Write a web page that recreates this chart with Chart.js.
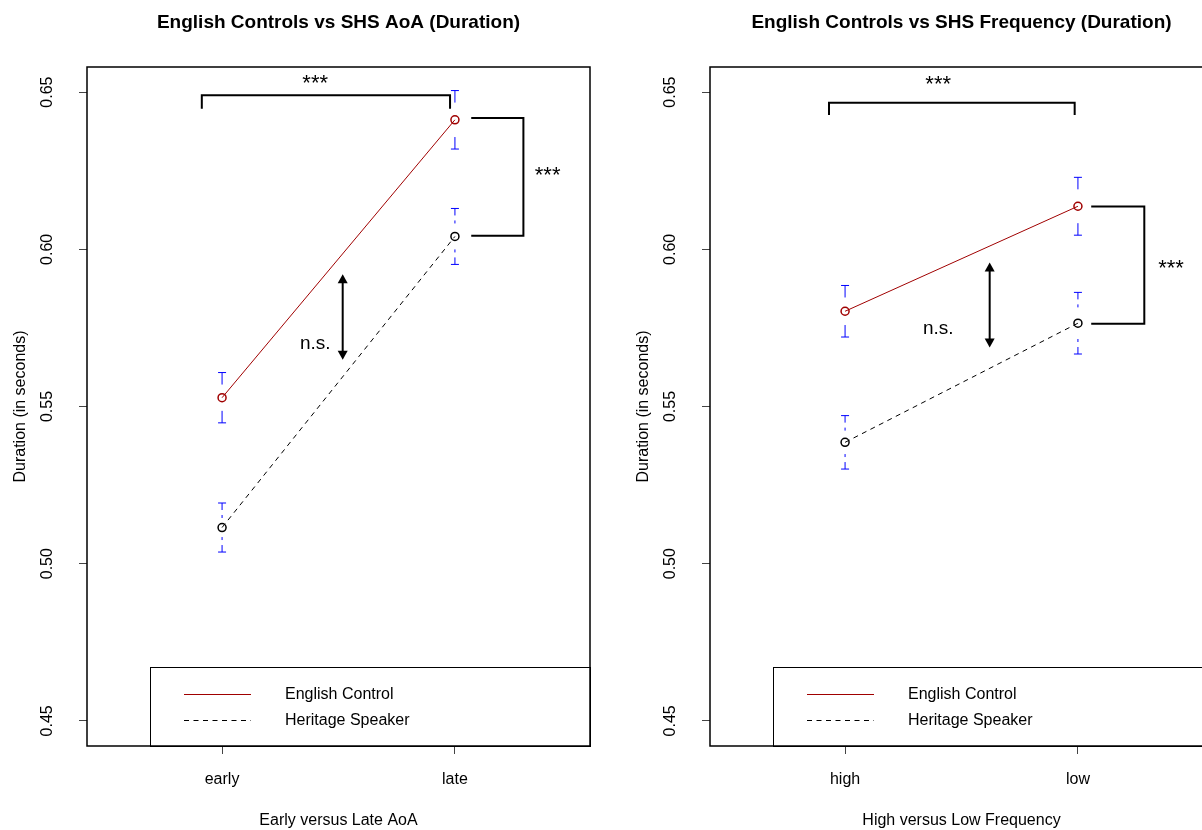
<!DOCTYPE html>
<html>
<head>
<meta charset="utf-8">
<title>English Controls vs SHS (Duration)</title>
<script src="https://cdn.jsdelivr.net/npm/chart.js@4.4.1/dist/chart.umd.min.js"></script>
<style>
  html, body { margin: 0; padding: 0; background: #fff; overflow: hidden; width: 1202px; height: 830px; }
  .panel { position: absolute; top: 0; width: 620px; height: 830px; }
  #aoaPanel { left: 0; }
  #freqPanel { left: 623px; }
</style>
</head>
<body>
<div class="panel" id="aoaPanel"><canvas id="aoaChart" width="620" height="830"></canvas></div>
<div class="panel" id="freqPanel"><canvas id="freqChart" width="620" height="830"></canvas></div>
<script>
// ---- data ----
const aoaLevels = ['early', 'late'];
const aoaControl = [0.5528, 0.6412];
const aoaControlSE = [0.0080, 0.0093];
const aoaHeritage = [0.5115, 0.6041];
const aoaHeritageSE = [0.0078, 0.0089];

const freqLevels = ['high', 'low'];
const freqControl = [0.5803, 0.6137];
const freqControlSE = [0.0082, 0.0092];
const freqHeritage = [0.5386, 0.5765];
const freqHeritageSE = [0.0085, 0.0098];

const seriesNames = ['English Control', 'Heritage Speaker'];
const yTicks = [0.45, 0.50, 0.55, 0.60, 0.65];
const xPositions = [1, 2];

Chart.defaults.font.family = '"Liberation Sans", Arial, Helvetica, sans-serif';
Chart.defaults.color = '#000';

const darkRed = '#a00000';
const dashPattern = [5, 4.5];

// R-style extras: error bars, significance brackets, legend box, plot frame
const rPlotPlugin = {
    id: 'rPlot',
    afterDatasetsDraw(chart) {
        const ctx = chart.ctx;
        const ys = chart.scales.y;
        ctx.save();
        ctx.strokeStyle = '#0000ff';
        ctx.lineWidth = 1;
        chart.data.datasets.forEach((ds, i) => {
            const meta = chart.getDatasetMeta(i);
            meta.data.forEach((pt, j) => {
                const v = ds.data[j].y;
                const se = ds.errors[j];
                [[ys.getPixelForValue(v + se), 1], [ys.getPixelForValue(v - se), -1]].forEach(([py, dir]) => {
                    ctx.setLineDash([]);
                    ctx.beginPath();
                    ctx.moveTo(pt.x - 4, py);
                    ctx.lineTo(pt.x + 4, py);
                    ctx.stroke();
                    ctx.setLineDash(ds.errDash);
                    ctx.beginPath();
                    ctx.moveTo(pt.x, py);
                    ctx.lineTo(pt.x, py + dir * ds.errStub);
                    ctx.stroke();
                });
            });
        });
        ctx.restore();
    },
    afterDraw(chart, args, opts) {
        const ctx = chart.ctx;
        const area = chart.chartArea;
        const xs = chart.scales.x, ys = chart.scales.y;
        const px = v => xs.getPixelForValue(v);
        const py = v => ys.getPixelForValue(v);
        ctx.save();

        // significance marks
        ctx.strokeStyle = '#000';
        ctx.fillStyle = '#000';
        ctx.lineWidth = 2;
        ctx.setLineDash([]);
        (opts.marks || []).forEach(m => {
            if (m.type === 'hbracket') {
                ctx.beginPath();
                ctx.moveTo(px(m.x1), py(m.yEnd));
                ctx.lineTo(px(m.x1), py(m.y));
                ctx.lineTo(px(m.x2), py(m.y));
                ctx.lineTo(px(m.x2), py(m.yEnd));
                ctx.stroke();
            } else if (m.type === 'vbracket') {
                ctx.beginPath();
                ctx.moveTo(px(m.x1), py(m.y1));
                ctx.lineTo(px(m.x2), py(m.y1));
                ctx.lineTo(px(m.x2), py(m.y2));
                ctx.lineTo(px(m.x1), py(m.y2));
                ctx.stroke();
            } else if (m.type === 'arrow') {
                const x = px(m.x), top = py(m.y1), bot = py(m.y2);
                ctx.beginPath();
                ctx.moveTo(x, top + 5);
                ctx.lineTo(x, bot - 5);
                ctx.stroke();
                ctx.beginPath();
                ctx.moveTo(x, top);
                ctx.lineTo(x - 5, top + 9);
                ctx.lineTo(x + 5, top + 9);
                ctx.closePath();
                ctx.fill();
                ctx.beginPath();
                ctx.moveTo(x, bot);
                ctx.lineTo(x - 5, bot - 9);
                ctx.lineTo(x + 5, bot - 9);
                ctx.closePath();
                ctx.fill();
            } else if (m.type === 'text') {
                ctx.font = m.size + 'px "Liberation Sans", Arial, sans-serif';
                ctx.textAlign = 'center';
                ctx.textBaseline = 'middle';
                ctx.fillText(m.text, px(m.x), py(m.y));
            }
        });

        // legend box, anchored bottom right of the plot region
        const lg = opts.legend;
        const left = area.left + lg.offsetLeft;
        const top = area.bottom - lg.height;
        ctx.fillStyle = '#fff';
        ctx.fillRect(left, top, area.right - left, lg.height);
        ctx.strokeStyle = '#000';
        ctx.lineWidth = 1;
        ctx.strokeRect(left + 0.5, top + 0.5, area.right - left, lg.height);
        ctx.font = '16px "Liberation Sans", Arial, sans-serif';
        ctx.textAlign = 'left';
        ctx.textBaseline = 'middle';
        chart.data.datasets.forEach((ds, i) => {
            const rowY = Math.round(top + lg.firstRow + i * lg.rowGap) + 0.5;
            ctx.strokeStyle = ds.borderColor;
            ctx.lineWidth = 1;
            ctx.setLineDash(ds.borderDash || []);
            ctx.beginPath();
            ctx.moveTo(left + 34, rowY);
            ctx.lineTo(left + 101, rowY);
            ctx.stroke();
            ctx.setLineDash([]);
            ctx.fillStyle = '#000';
            ctx.fillText(ds.label, left + 135, rowY);
        });

        // plot frame
        ctx.strokeStyle = '#000';
        ctx.lineWidth = 1.5;
        ctx.strokeRect(area.left, area.top, area.right - area.left, area.bottom - area.top);
        ctx.restore();
    }
};

function makePanel(canvasId, title, xTitle, levels, control, controlSE, heritage, heritageSE, marks) {
    const toPoints = vals => vals.map((v, i) => ({ x: xPositions[i], y: v }));
    return new Chart(document.getElementById(canvasId), {
        type: 'line',
        data: {
            datasets: [{
                label: seriesNames[0],
                data: toPoints(control),
                errors: controlSE,
                errDash: [],
                errStub: 12,
                borderColor: darkRed,
                borderWidth: 1,
                pointRadius: 4,
                pointBorderWidth: 1.5,
                pointBorderColor: darkRed,
                pointBackgroundColor: 'rgba(0,0,0,0)',
                tension: 0
            }, {
                label: seriesNames[1],
                data: toPoints(heritage),
                errors: heritageSE,
                errDash: [7, 5],
                errStub: 15,
                borderColor: '#000',
                borderWidth: 1,
                borderDash: dashPattern,
                pointRadius: 4,
                pointBorderWidth: 1.5,
                pointBorderColor: '#000',
                pointBackgroundColor: 'rgba(0,0,0,0)',
                tension: 0
            }]
        },
        options: {
            responsive: false,
            animation: false,
            layout: { padding: { left: 0, right: 30, top: 0, bottom: 0 } },
            plugins: {
                legend: { display: false },
                tooltip: { enabled: false },
                title: {
                    display: true,
                    text: title,
                    fullSize: false,
                    font: { size: 19, weight: 'bold' },
                    color: '#000',
                    padding: { top: 11, bottom: 33.2 }
                },
                rPlot: {
                    marks: marks,
                    legend: { offsetLeft: 63, height: 79, firstRow: 27, rowGap: 26 }
                }
            },
            scales: {
                x: {
                    type: 'linear',
                    min: 0.42,
                    max: 2.58,
                    afterBuildTicks: s => { s.ticks = xPositions.map(v => ({ value: v })); },
                    afterFit: s => { s.height = 84; },
                    border: { display: false },
                    grid: { drawOnChartArea: false, drawTicks: true, tickLength: 8, color: '#444' },
                    ticks: {
                        font: { size: 16 },
                        padding: 16,
                        maxRotation: 0,
                        callback: v => levels[xPositions.indexOf(v)]
                    },
                    title: {
                        display: true,
                        text: xTitle,
                        font: { size: 16 },
                        padding: { top: 0, bottom: 0 }
                    }
                },
                y: {
                    type: 'linear',
                    min: 0.442,
                    max: 0.658,
                    afterBuildTicks: s => { s.ticks = yTicks.map(v => ({ value: v })); },
                    afterFit: s => { s.width = 87; },
                    border: { display: false },
                    grid: { drawOnChartArea: false, drawTicks: true, tickLength: 8, color: '#444' },
                    ticks: {
                        font: { size: 16 },
                        padding: 16,
                        minRotation: 90,
                        maxRotation: 90,
                        crossAlign: 'center',
                        callback: v => v.toFixed(2)
                    },
                    title: {
                        display: true,
                        text: 'Duration (in seconds)',
                        font: { size: 16 },
                        padding: { top: 11, bottom: 0 }
                    }
                }
            }
        },
        plugins: [rPlotPlugin]
    });
}

// significance annotations, in data units
const aoaMarks = [
    { type: 'hbracket', x1: 0.913, x2: 1.979, y: 0.649, yEnd: 0.6447 },
    { type: 'text', text: '***', size: 22, x: 1.40, y: 0.6525 },
    { type: 'vbracket', x1: 2.07, x2: 2.294, y1: 0.6418, y2: 0.6043 },
    { type: 'text', text: '***', size: 22, x: 2.398, y: 0.6234 },
    { type: 'arrow', x: 1.518, y1: 0.5921, y2: 0.5649 },
    { type: 'text', text: 'n.s.', size: 19, x: 1.40, y: 0.5699 }
];

const freqMarks = [
    { type: 'hbracket', x1: 0.931, x2: 1.986, y: 0.6466, yEnd: 0.6427 },
    { type: 'text', text: '***', size: 22, x: 1.40, y: 0.6523 },
    { type: 'vbracket', x1: 2.057, x2: 2.285, y1: 0.6136, y2: 0.5763 },
    { type: 'text', text: '***', size: 22, x: 2.40, y: 0.5938 },
    { type: 'arrow', x: 1.621, y1: 0.5958, y2: 0.5688 },
    { type: 'text', text: 'n.s.', size: 19, x: 1.40, y: 0.5747 }
];

makePanel('aoaChart', 'English Controls vs SHS AoA (Duration)', 'Early versus Late AoA',
    aoaLevels, aoaControl, aoaControlSE, aoaHeritage, aoaHeritageSE, aoaMarks);
makePanel('freqChart', 'English Controls vs SHS Frequency (Duration)', 'High versus Low Frequency',
    freqLevels, freqControl, freqControlSE, freqHeritage, freqHeritageSE, freqMarks);
</script>
</body>
</html>
